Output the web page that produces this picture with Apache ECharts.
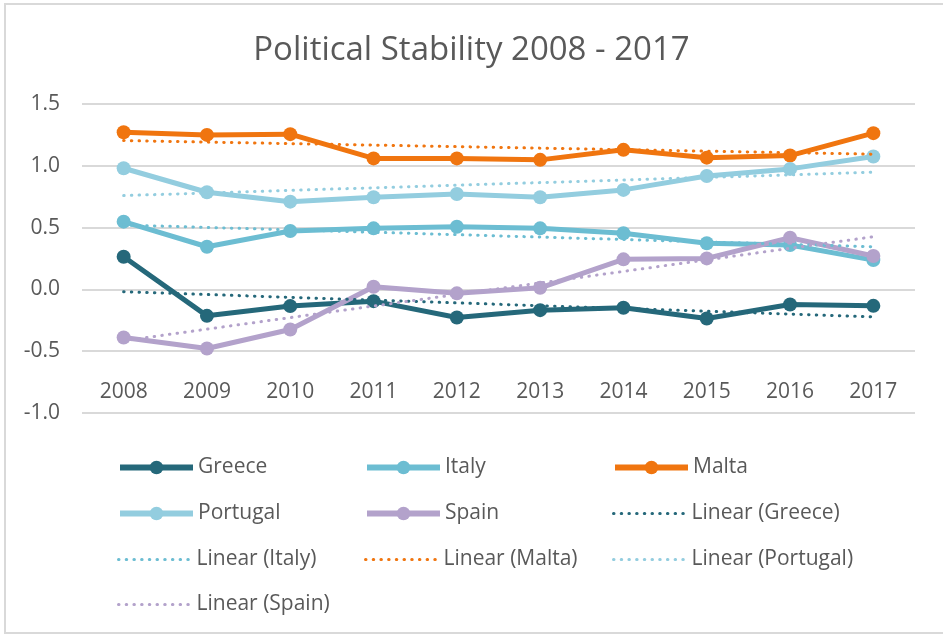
<!DOCTYPE html>
<html>
<head>
<meta charset="utf-8">
<script src="https://cdn.jsdelivr.net/npm/echarts@6/dist/echarts.min.js"></script>
<style>html,body{margin:0;padding:0;background:#fff;}#c{width:943px;height:634px;}</style>
</head>
<body>
<div id="c"></div>
<script>
const years = ['2008','2009','2010','2011','2012','2013','2014','2015','2016','2017'];
const yTicks = [-1.0, -0.5, 0.0, 0.5, 1.0, 1.5];
const greece = [0.264, -0.214, -0.135, -0.095, -0.227, -0.168, -0.149, -0.235, -0.122, -0.133];
const italy = [0.548, 0.345, 0.472, 0.494, 0.507, 0.494, 0.454, 0.373, 0.359, 0.237];
const malta = [1.272, 1.250, 1.256, 1.060, 1.060, 1.048, 1.129, 1.066, 1.083, 1.264];
const portugal = [0.980, 0.786, 0.710, 0.745, 0.772, 0.745, 0.805, 0.918, 0.975, 1.075];
const spain = [-0.389, -0.478, -0.324, 0.021, -0.032, 0.013, 0.243, 0.251, 0.418, 0.270];
// trend line end values (2008, 2017)
const trendGreece = [-0.019, -0.222];
const trendItaly = [0.521, 0.345];
const trendMalta = [1.204, 1.094];
const trendPortugal = [0.759, 0.948];
const trendSpain = [-0.415, 0.426];

const colors = {Greece:'#25687A', Italy:'#6CBDD2', Malta:'#F0750F', Portugal:'#93CDDF', Spain:'#B3A2CB'};
const FONT = 'Open Sans';
const TXT = '#595959';
const DOTS = [0.5, 7.2];

function lineSeries(name, data) {
  return {name, type:'line', data, symbol:'circle', symbolSize:14,
    itemStyle:{color:colors[name]}, lineStyle:{color:colors[name], width:5},
    emphasis:{disabled:true}, z:2};
}
function trendData(ends) {
  return years.map((y,i)=> i===0 ? ends[0] : (i===years.length-1 ? ends[1] : null));
}
function trendSeries(country, ends) {
  return {name:'Linear ('+country+')', type:'line', data:trendData(ends), connectNulls:true,
    symbol:'none', itemStyle:{color:colors[country]},
    lineStyle:{color:colors[country], width:3, type:DOTS, cap:'round'},
    emphasis:{disabled:true}, z:3};
}

const series = [
  lineSeries('Greece', greece), lineSeries('Italy', italy), lineSeries('Malta', malta),
  lineSeries('Portugal', portugal), lineSeries('Spain', spain),
  trendSeries('Greece', trendGreece), trendSeries('Italy', trendItaly), trendSeries('Malta', trendMalta),
  trendSeries('Portugal', trendPortugal), trendSeries('Spain', trendSpain)
];

const legendNames = ['Greece','Italy','Malta','Portugal','Spain','Linear (Greece)',
  'Linear (Italy)','Linear (Malta)','Linear (Portugal)','Linear (Spain)'];
const colLefts = [112, 359, 607];
const rowCenters = [464, 510, 556, 601];
const legends = legendNames.map((n,i)=>{
  const isTrend = n.indexOf('Linear') === 0;
  return {
    data:[n], left:colLefts[i%3], top:rowCenters[Math.floor(i/3)]-12, orient:'horizontal', itemGap:0,
    itemWidth:73, itemHeight:17, selectedMode:false,
    itemStyle: isTrend ? {opacity:0} : {},
    lineStyle: isTrend ? {width:3, type:DOTS, cap:'round'} : {width:6},
    textStyle:{fontFamily:FONT, fontSize:21, color:TXT, padding:[0,0,0,0]}
  };
});

const chart = echarts.init(document.getElementById('c'), null, {renderer:'canvas'});
chart.setOption({
  animation:false,
  backgroundColor:'#fff',
  title:{text:'Political Stability 2008 - 2017', left:'center', top:29,
    textStyle:{fontFamily:FONT, fontSize:33, fontWeight:'normal', color:TXT}},
  legend:legends,
  grid:{left:82, right:28, top:104, bottom:221, containLabel:false},
  xAxis:{type:'category', data:years, boundaryGap:true,
    axisLine:{show:false}, axisTick:{show:false},
    axisLabel:{inside:true, margin:10, fontFamily:FONT, fontSize:21, color:TXT}},
  yAxis:{type:'value', min:yTicks[0], max:yTicks[yTicks.length-1], interval:0.5,
    axisLine:{show:false}, axisTick:{show:false},
    axisLabel:{margin:22, fontFamily:FONT, fontSize:21, color:TXT, formatter:v=>v.toFixed(1)},
    splitLine:{lineStyle:{color:'#D9D9D9', width:2}}},
  graphic:[{type:'rect', shape:{x:5, y:4, width:960, height:629},
    style:{fill:null, stroke:'#D9D9D9', lineWidth:2}, silent:true, z:-1}],
  series
});
</script>
</body>
</html>
